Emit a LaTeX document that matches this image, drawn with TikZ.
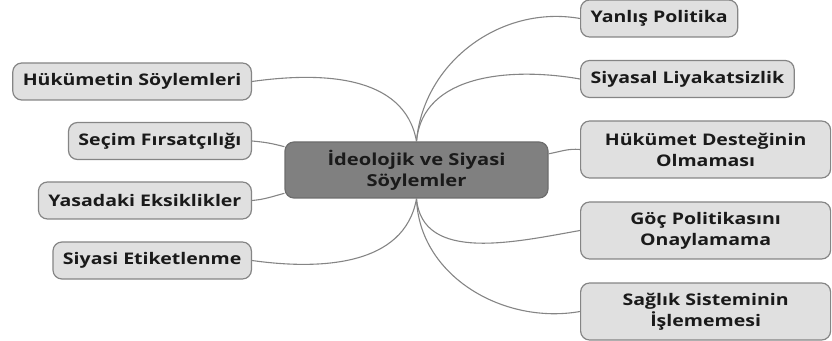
\documentclass[tikz,border=0pt]{standalone}
\usepackage{fontspec}
\setmainfont{Open Sans}[FakeStretch=1.22]
\usetikzlibrary{positioning}
\definecolor{leaffill}{HTML}{E0E0E0}
\definecolor{rootfill}{HTML}{808080}
\definecolor{edgegray}{HTML}{858585}
\definecolor{textdark}{HTML}{1A1A1A}

\begin{document}
\begin{tikzpicture}[x=1pt, y=1pt, font=\bfseries\fontsize{16}{21}\selectfont, text=textdark,
    root/.style={draw=rootfill!85!black, fill=rootfill, line width=1.2pt, rounded corners=9pt, align=center,
      minimum width=263pt, minimum height=56pt, font=\bfseries\fontsize{16.5}{21}\selectfont},
    leaf/.style={draw=edgegray, fill=leaffill, line width=1.2pt, rounded corners=9pt, align=center,
      minimum height=37pt, inner xsep=10pt},
    wide/.style={leaf, text width=230pt, minimum height=57pt},
    link/.style={draw=edgegray, line width=1.1pt}]
    \useasboundingbox (0,0) rectangle (832,340);

    \node[root] (root) at (416.5,170) {İdeolojik ve Siyasi\\Söylemler};

    \node[leaf, anchor=east] (hukumet) at (252,258.5) {Hükümetin Söylemleri};
    \node[leaf, anchor=east] (secim) at (252,199) {Seçim Fırsatçılığı};
    \node[leaf, anchor=east] (yasa) at (252,139.5) {Yasadaki Eksiklikler};
    \node[leaf, anchor=east] (etiket) at (252,79.5) {Siyasi Etiketlenme};

    \node[leaf, anchor=west] (yanlis) at (580,321.5) {Yanlış Politika};
    \node[leaf, anchor=west] (liyakat) at (580,261) {Siyasal Liyakatsizlik};
    \node[wide, anchor=west] (destek) at (580,190.5) {Hükümet Desteğinin\\Olmaması};
    \node[wide, anchor=west] (goc) at (580,109.5) {Göç Politikasını\\Onaylamama};
    \node[wide, anchor=west] (saglik) at (580,28.5) {Sağlık Sisteminin\\İşlememesi};

    \draw[link] (hukumet.east) to[out=8, in=100] (root.north);
    \draw[link] (secim.east) to[out=-5, in=165] (root.170);
    \draw[link] (yasa.east) to[out=5, in=195] (root.190);
    \draw[link] (etiket.east) to[out=-8, in=-100] (root.south);

    \draw[link] (yanlis.west) to[out=170, in=85] (root.north);
    \draw[link] (liyakat.west) to[out=170, in=85] (root.north);
    \draw[link] (destek.west) to[out=175, in=10] (root.7);
    \draw[link] (goc.west) to[out=190, in=-85] (root.south);
    \draw[link] (saglik.west) to[out=190, in=-88] (root.south);
\end{tikzpicture}
\end{document}
